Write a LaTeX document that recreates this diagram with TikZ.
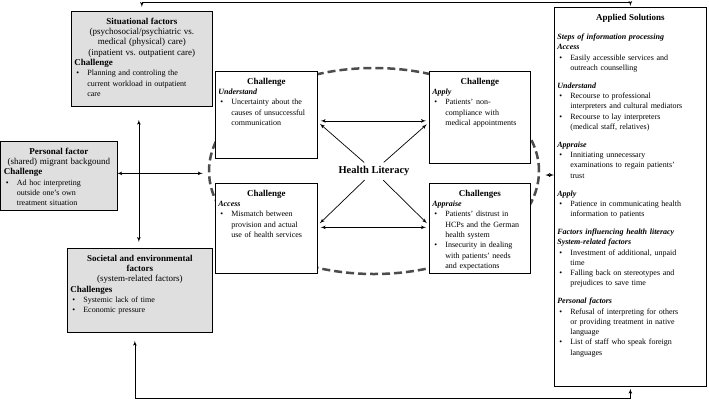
\documentclass[tikz,border=0pt]{standalone}
\usepackage{fontspec}
\setmainfont{Liberation Serif}
\usetikzlibrary{shapes,arrows}
\frenchspacing
\tikzstyle{factor} = [rectangle, draw, fill=gray!25, anchor=north west,
    inner sep=3pt, text height=10pt, font=\fontsize{8}{10.3}\selectfont]
\tikzstyle{challenge} = [rectangle, draw, fill=white, anchor=north west,
    inner sep=3pt, text height=10pt, font=\fontsize{8}{10.3}\selectfont]
\tikzstyle{hlring} = [ellipse, draw=gray!60!black, dash pattern=on 8pt off 4pt, line width=2.5pt,
    minimum width=330pt, minimum height=206pt, inner sep=0pt, font=\fontsize{10.5}{12}\selectfont\bfseries]
\tikzstyle{line} = [draw, -latex']
\tikzstyle{dline} = [draw, latex'-latex']
\newcommand{\boxtitle}[1]{{\centering\fontsize{9}{10.3}\selectfont\bfseries #1\par}}
\newcommand{\subhead}[1]{\par\noindent{\fontsize{9}{10.3}\selectfont\bfseries #1}\par}
\newcommand{\stage}[1]{\par\noindent\textbf{\textit{#1}}\par}
\newcommand{\bul}[1]{\par\hangindent=13pt\hangafter=1\noindent\makebox[13pt][l]{\hspace{2pt}\textbullet}#1\par}
\newcommand{\gap}{\par\vspace{7.5pt}}

\begin{document}
\begin{tikzpicture}[x=1pt, y=-1pt, line width=0.7pt]
    \useasboundingbox (0,0) rectangle (709,400);
    % Place nodes
    \node [hlring] (hl) at (374,171) {Health Literacy};
    \node [factor, text width=135pt, text depth=79pt] (sit) at (71,11) {\raggedright
        \boxtitle{Situational factors\\ \mdseries(psychosocial/psychiatric vs.\\ medical (physical) care)\\ (inpatient vs. outpatient care)}
        \subhead{Challenge}
        \bul{Planning and controling the\newline current workload in outpatient\newline care}};
    \node [factor, text width=110pt, text depth=53pt] (pers) at (0.5,141) {\raggedright
        \boxtitle{Personal factor\\ \mdseries(shared) migrant backgound}
        \subhead{Challenge}
        \bul{Ad hoc interpreting\newline outside one's own\newline treatment situation}};
    \node [factor, text width=139pt, text depth=68pt] (soc) at (67,248) {\raggedright
        \boxtitle{Societal and environmental\\ factors\\ \mdseries(system-related factors)}
        \subhead{Challenges}
        \bul{Systemic lack of time}
        \bul{Economic pressure}};
    \node [challenge, text width=96pt, text depth=71pt] (und) at (215,71) {\raggedright
        \boxtitle{Challenge}
        \stage{Understand}
        \bul{Uncertainty about the\newline causes of unsuccessful\newline communication}};
    \node [challenge, text width=96pt, text depth=74pt] (acc) at (215,183) {\raggedright
        \boxtitle{Challenge}
        \stage{Access}
        \bul{Mismatch between\newline provision and actual\newline use of health services}};
    \node [challenge, text width=95pt, text depth=76pt] (apl) at (429,71) {\raggedright
        \boxtitle{Challenge}
        \stage{Apply}
        \bul{Patients' non-\newline compliance with\newline medical appointments}};
    \node [challenge, text width=95pt, text depth=74pt] (apr) at (429,183) {\raggedright
        \boxtitle{Challenges}
        \stage{Appraise}
        \bul{Patients' distrust in\newline HCPs and the German\newline health system}
        \bul{Insecurity in dealing\newline with patients' needs\newline and expectations}};
    \node [challenge, text width=146pt, text depth=363pt] (app) at (554,7) {\raggedright
        \boxtitle{Applied Solutions}\vspace{9pt}
        \stage{Steps of information processing}
        \stage{Access}
        \bul{Easily accessible services and\newline outreach counselling}\gap
        \stage{Understand}
        \bul{Recourse to professional\newline interpreters and cultural mediators}
        \bul{Recourse to lay interpreters\newline (medical staff, relatives)}\gap
        \stage{Appraise}
        \bul{Innitiating unnecessary\newline examinations to regain patients'\newline trust}\gap
        \stage{Apply}
        \bul{Patience in communicating health\newline information to patients}\gap
        \stage{Factors influencing health literacy}
        \stage{System-related factors}
        \bul{Investment of additional, unpaid\newline time}
        \bul{Falling back on stereotypes and\newline prejudices to save time}\gap
        \stage{Personal factors}
        \bul{Refusal of interpreting for others\newline or providing treatment in native\newline language}
        \bul{List of staff who speak foreign\newline languages}};
    \coordinate (topline) at (0,2);
    \coordinate (botline) at (0,398);
    % Draw edges
    \path [dline, shorten <=4pt, shorten >=1pt] (sit.north) -- (sit.north |- topline) -| (app.north);
    \path [dline, shorten <=8pt, shorten >=2pt] ([xshift=-5pt]soc.south) -- ([xshift=-5pt]soc.south |- botline) -| (app.south);
    \path [dline, shorten <=13pt, shorten >=6pt] ([xshift=-3pt]sit.south) -- ([xshift=-3pt]sit.south |- soc.north);
    \path [dline, shorten >=5pt] ([yshift=2.5pt]pers.east) -- ([yshift=2.5pt]pers.east -| hl.west);
    \path [dline, shorten <=5pt] ([yshift=-4pt]hl.east) -- ([yshift=-4pt]hl.east -| app.west);
    \path [dline, shorten <=3pt, shorten >=3pt] ([yshift=-6pt]und.east) -- ([yshift=-6pt]und.east -| apl.west);
    \path [dline, shorten <=3pt, shorten >=3pt] ([yshift=1pt]acc.east) -- ([yshift=1pt]acc.east -| apr.west);
    \path [line, shorten <=13pt, shorten >=3pt] (hl.center) -- ([yshift=-7pt]und.east);
    \path [line, shorten <=13pt, shorten >=3pt] (hl.center) -- ([yshift=-5pt]apl.west);
    \path [line, shorten <=13pt, shorten >=3pt] (hl.center) -- ([yshift=3pt]acc.east);
    \path [line, shorten <=13pt, shorten >=3pt] (hl.center) -- ([yshift=3pt]apr.west);
\end{tikzpicture}
\end{document}
